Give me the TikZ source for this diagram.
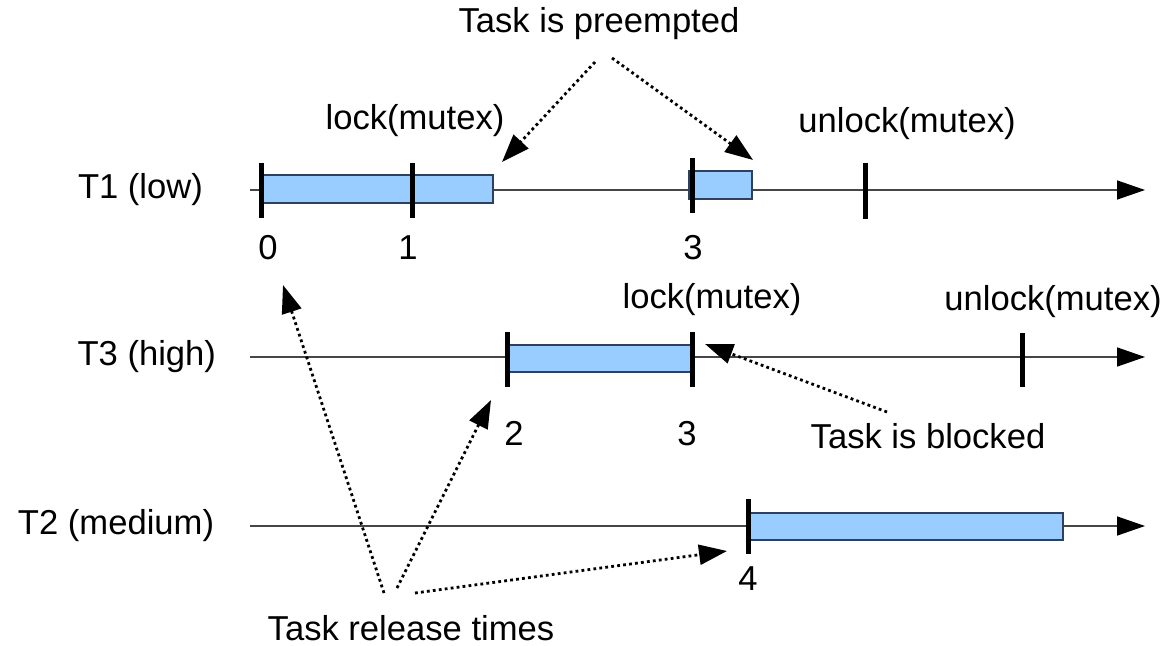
\documentclass[tikz,border=0pt]{standalone}
\usepackage{fontspec}
\setmainfont{Liberation Sans}
\usetikzlibrary{arrows.meta}
\definecolor{barblue}{RGB}{153,204,255}
\definecolor{baredge}{RGB}{45,65,95}
\definecolor{axisgray}{RGB}{70,70,70}

\begin{document}
\begin{tikzpicture}[x=0.5pt,y=-0.5pt,
  every node/.style={font=\fontsize{17.3}{20}\selectfont, inner sep=0pt, outer sep=0pt},
  lbl/.style={anchor=base},
  timeline/.style={draw=axisgray, line width=0.75pt, -{Triangle[length=14pt,width=9.5pt,color=black]}},
  busy/.style={draw=baredge, fill=barblue, line width=0.6pt},
  tickmark/.style={line width=2.5pt},
  note/.style={line width=1.4pt, dash pattern=on 1.4pt off 1.6pt, -{Triangle[length=14pt,width=10pt]}}]

\useasboundingbox (0,0) rectangle (1165,646);

\node[anchor=west] (t1) at (78,190) {T1 (low)};
\node[anchor=east] (t3) at (216,357) {T3 (high)};
\node[anchor=west] (t2) at (18,526) {T2 (medium)};

\coordinate (t1s) at (250,190);  \coordinate (t1e) at (1145,190);
\coordinate (t3s) at (250,357);  \coordinate (t3e) at (1145,357);
\coordinate (t2s) at (250,526);  \coordinate (t2e) at (1145,526);

\draw[timeline] (t1s) -- (t1e);
\draw[timeline] (t3s) -- (t3e);
\draw[timeline] (t2s) -- (t2e);

\draw[busy] (261,175) rectangle (493,203);
\draw[busy] (689,171) rectangle (752,199);
\draw[busy] (507,345) rectangle (692,372);
\draw[busy] (748,513) rectangle (1063,540);

\draw[tickmark] (261,163) -- (261,218);
\draw[tickmark] (412,163) -- (412,218);
\draw[tickmark] (692,158) -- (692,213);
\draw[tickmark] (865,163) -- (865,219);
\draw[tickmark] (507,332) -- (507,387);
\draw[tickmark] (692,332) -- (692,387);
\draw[tickmark] (1022,333) -- (1022,387);
\draw[tickmark] (748,499) -- (748,554);

\node[lbl] (n0) at (268,260) {0};
\node[lbl] (n1) at (408,260) {1};
\node[lbl] (n3a) at (693,260) {3};
\node[lbl] (n2) at (514,445) {2};
\node[lbl] (n3b) at (687,445) {3};
\node[lbl] (n4) at (748,590) {4};

\node[lbl] (lock1) at (415,130) {lock(mutex)};
\node[lbl] (unlock1) at (907,133) {unlock(mutex)};
\node[lbl] (lock3) at (712,308) {lock(mutex)};
\node[lbl] (unlock3) at (1053,310) {unlock(mutex)};

\node[lbl] (pre) at (599,33) {Task is preempted};
\node[lbl] (blk) at (928,448) {Task is blocked};
\node[lbl] (rel) at (411,640) {Task release times};

\coordinate (pre-a) at (595,62);   \coordinate (pre-b) at (612,58);
\coordinate (hitA) at (502,162);   \coordinate (hitB) at (753,160);
\coordinate (blk-a) at (887,412);  \coordinate (hitC) at (705,344);
\coordinate (rel-a) at (384,593);  \coordinate (rel-b) at (397,588);  \coordinate (rel-c) at (415,593);
\coordinate (hit0) at (283,285);   \coordinate (hit2) at (491,400);   \coordinate (hit4) at (727,551);

\draw[note] (pre-a) -- (hitA);
\draw[note] (pre-b) -- (hitB);
\draw[note] (blk-a) -- (hitC);
\draw[note] (rel-a) -- (hit0);
\draw[note] (rel-b) -- (hit2);
\draw[note] (rel-c) -- (hit4);
\end{tikzpicture}
\end{document}
